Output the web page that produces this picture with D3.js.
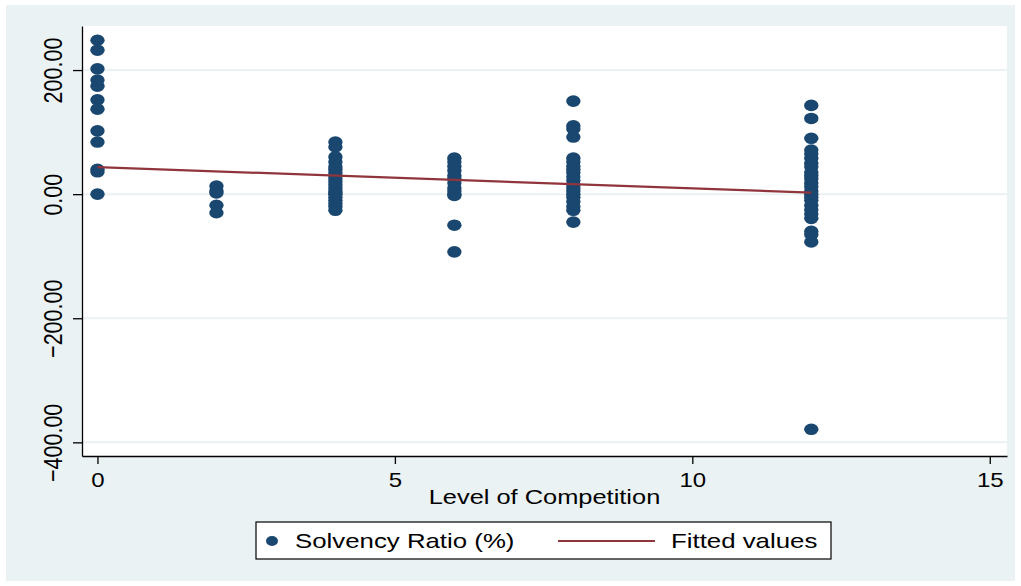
<!DOCTYPE html>
<html>
<head>
<meta charset="utf-8">
<script src="https://cdn.jsdelivr.net/npm/d3@7"></script>
<style>
  body { margin: 0; background: #fff; }
  text { font-family: "Liberation Sans", Arial, sans-serif; fill: #000; }
</style>
</head>
<body>
<div id="chart"></div>
<script>
// competition levels and solvency ratio (%) observed at each level
var levels = [0, 2, 4, 6, 8, 12];
var ratioAt0 = [248, 232, 202, 184, 174, 152, 137, 102, 84, 40, 36, 0];
var ratioAt2 = [13, 5, 2, -18, -30];
var ratioAt4 = [84, 76, 60, 52, 44, 40, 35, 30, 25, 20, 15, 10, 5, 2, 0, -5, -10, -15, -20, -26];
var ratioAt6 = [58, 52, 45, 38, 30, 25, 18, 10, 5, 0, -2, -50, -93];
var ratioAt8 = [150, 110, 105, 92, 58, 52, 45, 40, 35, 28, 22, 15, 10, 5, 0, -5, -12, -20, -26, -45];
var ratioAt12 = [143, 122, 90, 71, 65, 58, 50, 44, 35, 30, 25, 18, 12, 5, 0, -5, -10, -18, -25, -32, -39, -60, -65, -77, -379];

// fitted line endpoints
var fitX = [0, 12];
var fitY = [43.6, 2.4];

var xTicks = [0, 5, 10, 15];
var yTicks = [-400, -200, 0, 200];
var xTitle = "Level of Competition";
var legendLabels = ["Solvency Ratio (%)", "Fitted values"];

var W = 1021, H = 586;
var plot = { left: 82, right: 1007, top: 26, bottom: 456 };
var navy = "#1a476f", maroon = "#90353b", bg = "#eaf2f3";

var svg = d3.select("#chart").append("svg")
    .attr("width", W).attr("height", H);

svg.append("rect").attr("x", 6).attr("y", 5)
    .attr("width", W - 12).attr("height", H - 10).attr("fill", bg);
svg.append("rect").attr("x", plot.left).attr("y", plot.top)
    .attr("width", plot.right - plot.left).attr("height", plot.bottom - plot.top)
    .attr("fill", "#fff");

var x = d3.scaleLinear().domain([-0.26, 15.29]).range([plot.left, plot.right]);
var y = d3.scaleLinear().domain([-422, 271]).range([plot.bottom, plot.top]);

// grid lines
svg.append("g").selectAll("line").data(yTicks).join("line")
    .attr("x1", plot.left).attr("x2", plot.right)
    .attr("y1", d => y(d)).attr("y2", d => y(d))
    .attr("stroke", bg).attr("stroke-width", 2);

// points
var points = [];
var cols = [ratioAt0, ratioAt2, ratioAt4, ratioAt6, ratioAt8, ratioAt12];
levels.forEach(function (lv, i) {
    cols[i].forEach(function (v) { points.push({ x: lv, y: v }); });
});
svg.append("g").selectAll("ellipse").data(points).join("ellipse")
    .attr("cx", d => x(d.x)).attr("cy", d => y(d.y))
    .attr("rx", 7.2).attr("ry", 5.8)
    .attr("fill", navy);

// fitted line
svg.append("path")
    .datum(fitX.map((d, i) => [d, fitY[i]]))
    .attr("d", d3.line().x(d => x(d[0])).y(d => y(d[1])))
    .attr("fill", "none").attr("stroke", maroon).attr("stroke-width", 2.2);

// axes
var yAxis = svg.append("g").attr("transform", "translate(" + plot.left + ",0)")
    .call(d3.axisLeft(y).tickValues(yTicks).tickSize(9).tickSizeOuter(0).tickFormat(d3.format(".2f")));
yAxis.selectAll("text")
    .attr("x", null).attr("dy", null)
    .attr("text-anchor", "middle")
    .attr("font-size", 20.5)
    .attr("transform", "translate(-20,0) rotate(-90) scale(1.05,1.28)");

var xAxis = svg.append("g").attr("transform", "translate(0," + plot.bottom + ")")
    .call(d3.axisBottom(x).tickValues(xTicks).tickSize(8).tickSizeOuter(0));
xAxis.selectAll("text")
    .attr("y", null).attr("dy", null)
    .attr("font-size", 20)
    .attr("transform", "translate(0,31) scale(1.2,1)");

svg.selectAll(".domain, .tick line").attr("stroke", "#000").attr("stroke-width", 1.3);
svg.selectAll(".tick text").attr("font-family", null).style("fill", "#000");

svg.append("text")
    .attr("text-anchor", "middle")
    .attr("font-size", 20)
    .attr("transform", "translate(" + ((plot.left + plot.right) / 2) + ",504) scale(1.27,1)")
    .text(xTitle);

// legend
var lg = svg.append("g");
lg.append("rect").attr("x", 256).attr("y", 522).attr("width", 575).attr("height", 37)
    .attr("fill", "#fff").attr("stroke", "#000").attr("stroke-width", 1.2);
lg.append("ellipse").attr("cx", 272).attr("cy", 541).attr("rx", 6).attr("ry", 5).attr("fill", navy);
lg.append("text").attr("font-size", 20.5)
    .attr("transform", "translate(295,548) scale(1.26,1)").text(legendLabels[0]);
lg.append("line").attr("x1", 558).attr("x2", 655).attr("y1", 541).attr("y2", 541)
    .attr("stroke", maroon).attr("stroke-width", 2);
lg.append("text").attr("font-size", 20.5)
    .attr("transform", "translate(671,548) scale(1.26,1)").text(legendLabels[1]);
</script>
</body>
</html>
